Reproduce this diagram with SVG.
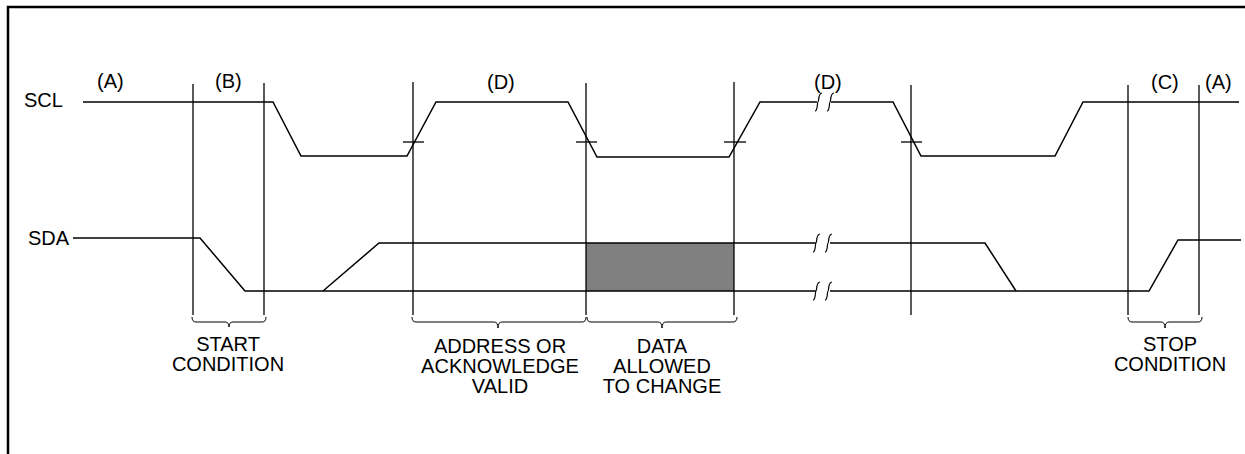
<svg xmlns="http://www.w3.org/2000/svg" width="1245" height="454" viewBox="0 0 1245 454">
<style>
text{font-family:"Liberation Sans",Arial,sans-serif;font-size:20px;fill:#000}
.c{text-anchor:middle}
.sig{fill:none;stroke:#000;stroke-width:1.5}
.v{stroke:#000;stroke-width:1.3}
.tick{stroke:#000;stroke-width:1.3}
.brace{fill:none;stroke:#000;stroke-width:1}
.brk{fill:none;stroke:#000;stroke-width:1.2}
</style>
<rect x="8" y="7" width="1260" height="470" fill="#fff" stroke="#000" stroke-width="2.5"/>
<g id="labels">
<text x="24" y="107">SCL</text>
<text x="28" y="245">SDA</text>
<text x="97" y="88">(A)</text>
<text x="215" y="88">(B)</text>
<text x="487" y="89">(D)</text>
<text x="814" y="89">(D)</text>
<text x="1151" y="89">(C)</text>
<text x="1205" y="89">(A)</text>
</g>
<rect id="data-change" x="586" y="243" width="148" height="48" fill="#808080"/>
<g id="connectors">
<path class="sig" d="M83,102 H273 L301,156 H407 L436,102 H568 L597,157 H729 L760,102 H817"/>
<path class="sig" d="M831,102 H893 L921,156 H1055 L1083,102 H1239"/>
<path class="sig" d="M73,238 H200 L245,291 H816"/>
<path class="sig" d="M830,291 H1149 L1178,240 H1241"/>
<path class="sig" d="M323,291 L379,243 H816"/>
<path class="sig" d="M830,243 H985 L1016,291"/>
<line class="v" x1="193" y1="84" x2="193" y2="315" stroke-width="2.2"/>
<line class="v" x1="264" y1="83" x2="264" y2="315"/>
<line class="v" x1="413" y1="82" x2="413" y2="315"/>
<line class="v" x1="586" y1="83" x2="586" y2="315"/>
<line class="v" x1="734" y1="82" x2="734" y2="315"/>
<line class="v" x1="911" y1="85" x2="911" y2="315"/>
<line class="v" x1="1128" y1="85" x2="1128" y2="315"/>
<line class="v" x1="1199" y1="85" x2="1199" y2="315"/>
<line class="tick" x1="403" y1="142" x2="424" y2="142"/>
<line class="tick" x1="576" y1="142" x2="597" y2="142"/>
<line class="tick" x1="724" y1="142" x2="746" y2="142"/>
<line class="tick" x1="901" y1="142" x2="922" y2="142"/>
<path class="brk" d="M815,111 C818,111 817,102 818,102 C819,102 818,93 822,93"/>
<path class="brk" d="M827,111 C830,111 829,102 830,102 C831,102 830,93 834,93"/>
<path class="brk" d="M813,252 C816,252 815,243 816,243 C817,243 816,234 820,234"/>
<path class="brk" d="M825,252 C828,252 827,243 828,243 C829,243 828,234 832,234"/>
<path class="brk" d="M813,300 C816,300 815,291 816,291 C817,291 816,282 820,282"/>
<path class="brk" d="M825,300 C828,300 827,291 828,291 C829,291 828,282 832,282"/>
</g>
<g id="brace-start">
<path class="brace" d="M192,317 Q192,322 196,322 H225 Q229,322 229,327 Q229,322 233,322 H262 Q266,322 266,317"/>
<text class="c" x="228" y="351">START</text>
<text class="c" x="228" y="371">CONDITION</text>
</g>
<g id="brace-address">
<path class="brace" d="M412,317 Q412,322 416,322 H494 Q498,322 498,328 Q498,322 502,322 H582 Q586,322 586,317"/>
<text class="c" x="500" y="353">ADDRESS OR</text>
<text class="c" x="500" y="373">ACKNOWLEDGE</text>
<text class="c" x="500" y="393">VALID</text>
</g>
<g id="brace-data">
<path class="brace" d="M587,317 Q587,322 591,322 H658 Q662,322 662,328 Q662,322 666,322 H733 Q737,322 737,317"/>
<text class="c" x="662" y="353">DATA</text>
<text class="c" x="662" y="373">ALLOWED</text>
<text class="c" x="662" y="393">TO CHANGE</text>
</g>
<g id="brace-stop">
<path class="brace" d="M1128,317 Q1128,322 1132,322 H1161 Q1165,322 1165,328 Q1165,322 1169,322 H1198 Q1202,322 1202,317"/>
<text class="c" x="1170" y="351">STOP</text>
<text class="c" x="1170" y="371">CONDITION</text>
</g>
</svg>
